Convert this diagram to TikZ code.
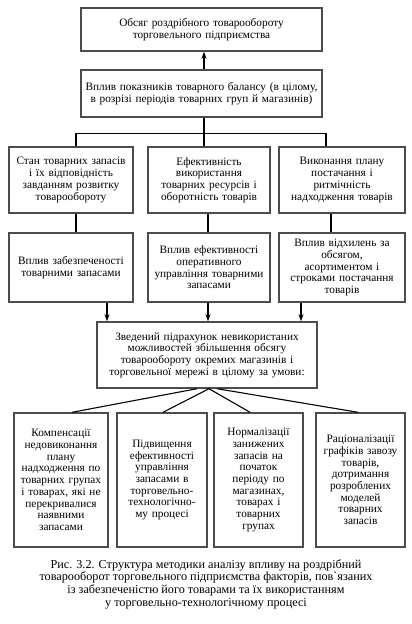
\documentclass[tikz,border=0pt]{standalone}
\usepackage{fontspec}
\setmainfont{Liberation Serif}
\usetikzlibrary{arrows.meta,calc}
\begin{document}
\begin{tikzpicture}[x=1pt,y=-1pt,
  box/.style={draw=black!70, line width=1.4pt, align=center, inner sep=1pt,
    font=\fontsize{11.3}{11.7}\selectfont, anchor=center},
  conn/.style={line width=1.1pt, black},
  arr/.style={conn, -{Stealth[length=7pt,width=5pt]}}]
\useasboundingbox (0,0) rectangle (412,624);
\fill[white] (0,0) rectangle (412,624);

\node[box, minimum width=241pt, minimum height=43pt, text width=238pt] (b1) at (201.5,29.5)
  {Обсяг роздрібного товарообороту\\ торговельного підприємства};
\node[box, minimum width=241pt, minimum height=47pt, text width=238pt] (b2) at (201.5,93.5)
  {Вплив показників товарного балансу (в цілому,\\ в розрізі періодів товарних груп й магазинів)};

\node[box, minimum width=124pt, minimum height=66pt, text width=121pt] (r3a) at (71,180)
  {Стан товарних запасів\\ і їх відповідність\\ завданням розвитку\\ товарообороту};
\node[box, minimum width=122pt, minimum height=66pt, text width=119pt] (r3b) at (209,180)
  {Ефективність\\ використання\\ товарних ресурсів і\\ оборотність товарів};
\node[box, minimum width=126pt, minimum height=66pt, text width=123pt] (r3c) at (342,180)
  {Виконання плану\\ постачання і\\ ритмічність\\ надходження товарів};

\node[box, minimum width=124pt, minimum height=69pt, text width=121pt] (r4a) at (71,267.5)
  {Вплив забезпеченості\\ товарними запасами};
\node[box, minimum width=122pt, minimum height=69pt, text width=119pt] (r4b) at (209,267.5)
  {Вплив ефективності\\ оперативного\\ управління товарними\\ запасами};
\node[box, minimum width=126pt, minimum height=69pt, text width=123pt] (r4c) at (342,267.5)
  {Вплив відхилень за\\ обсягом,\\ асортиментом і\\ строками постачання\\ товарів};

\node[box, minimum width=220pt, minimum height=66pt, text width=217pt] (b5) at (207,355)
  {Зведений підрахунок невикористаних\\ можливостей збільшення обсягу\\ товарообороту окремих магазинів і\\ торговельної мережі в цілому за умови:};

\node[box, minimum width=94pt, minimum height=134pt, text width=92pt] (r6a) at (61,480)
  {Компенсації\\ недовиконання\\ плану\\ надходження по\\ товарних групах\\ і товарах, які не\\ перекривалися\\ наявними\\ запасами};
\node[box, minimum width=90pt, minimum height=134pt, text width=88pt] (r6b) at (162,480)
  {Підвищення\\ ефективності\\ управління\\ запасами в\\ торговельно-\\ технологічно-\\ му процесі};
\node[box, minimum width=89pt, minimum height=134pt, text width=87pt] (r6c) at (258.5,480)
  {Нормалізації\\ занижених\\ запасів на\\ початок\\ періоду по\\ магазинах,\\ товарах і\\ товарних\\ групах};
\node[box, minimum width=89pt, minimum height=134pt, text width=87pt] (r6d) at (360.5,480)
  {Раціоналізації\\ графіків завозу\\ товарів,\\ дотримання\\ розроблених\\ моделей\\ товарних\\ запасів};

\node[align=center, font=\fontsize{12.2}{12.7}\selectfont] (cap) at (206,584)
  {Рис. 3.2. Структура методики аналізу впливу на роздрібний\\
   товарооборот торговельного підприємства факторів, пов\textasciigrave язаних\\
   із забезпеченістю його товарами та їх використанням\\
   у торговельно-технологічному процесі};

% connectors
\draw[arr] ([xshift=2.5pt]b2.north) -- ([xshift=2.5pt]b1.south);
\coordinate (bus) at ($([xshift=2.5pt]b2.south)+(0,16)$);
\draw[conn] ([xshift=2.5pt]b2.south) -- (bus);
\draw[conn] ([xshift=5pt]r3a.north) |- (bus) -| ([xshift=-16pt]r3c.north);
\draw[conn] (bus) -- ([xshift=-5pt]r3b.north);

\draw[conn] ([xshift=5pt]r3a.south) -- ([xshift=5pt]r4a.north);
\draw[conn] ([xshift=-1pt]r3b.south) -- ([xshift=-1pt]r4b.north);
\draw[conn] ([xshift=-11pt]r3c.south) -- ([xshift=-11pt]r4c.north);

\draw[arr] ([xshift=36pt]r4a.south) coordinate (t1) -- (t1 |- b5.north);
\draw[arr] ([xshift=-1pt]r4b.south) coordinate (t2) -- (t2 |- b5.north);
\draw[arr] ([xshift=-41pt]r4c.south) coordinate (t3) -- (t3 |- b5.north);

\draw[conn] ([xshift=-10pt]b5.south) -- ([xshift=11pt]r6a.north);
\draw[conn] ([xshift=2pt]b5.south) -- ([xshift=1pt]r6b.north);
\draw[conn] ([xshift=2pt]b5.south) -- ([xshift=-8.5pt]r6c.north);
\draw[conn] ([xshift=10pt]b5.south) -- ([xshift=-2.5pt]r6d.north);
\end{tikzpicture}
\end{document}
